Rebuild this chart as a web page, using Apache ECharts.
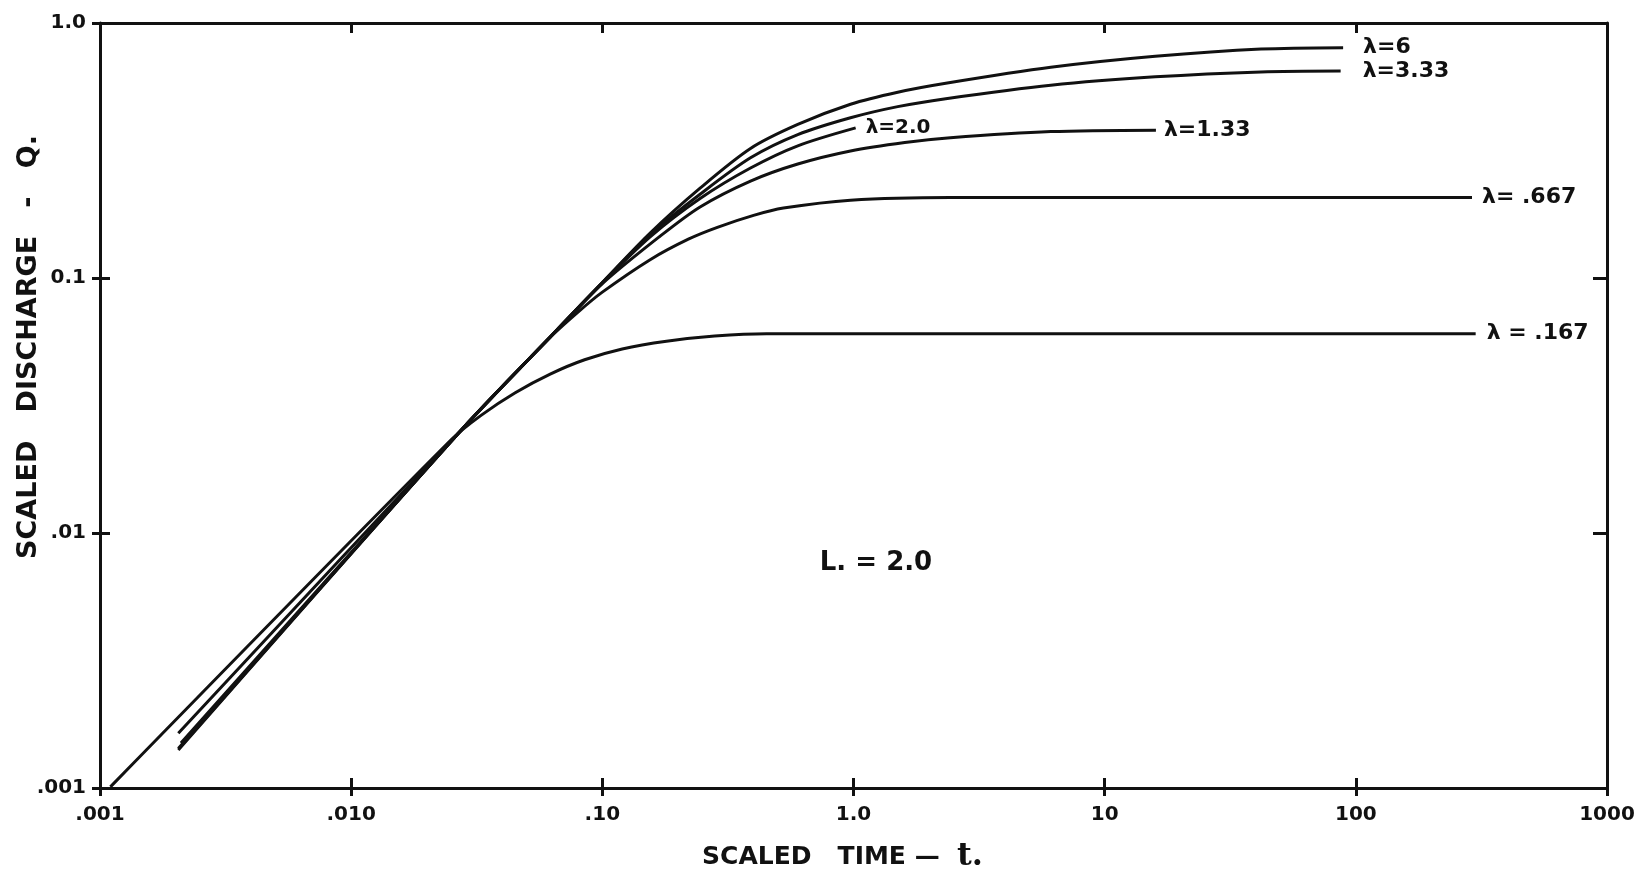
<!DOCTYPE html>
<html>
<head>
<meta charset="utf-8">
<title>Scaled discharge vs scaled time</title>
<script src="https://cdn.jsdelivr.net/npm/echarts/dist/echarts.min.js"></script>
<style>
  html, body { margin: 0; padding: 0; background: #fff; }
  #main { width: 1647px; height: 872px; }
</style>
</head>
<body>
<div id="main"></div>
<script>
// values (log-log), one pair of arrays per curve
var lambdaNames = ['λ=6', 'λ=3.33', 'λ=2.0', 'λ=1.33', 'λ= .667', 'λ = .167'];

var t_6   = [0.00205, 0.0277, 0.062, 0.1, 0.155, 0.245, 0.389, 0.6, 0.973, 1.5, 2.33, 6.1, 15.9, 41.9, 89];
var q_6   = [0.00141, 0.0256, 0.0587, 0.096, 0.150, 0.225, 0.322, 0.40, 0.48, 0.535, 0.58, 0.67, 0.74, 0.79, 0.80];

var t_333 = [0.00205, 0.0277, 0.062, 0.1, 0.155, 0.245, 0.389, 0.6, 0.973, 1.5, 2.33, 6.1, 15.9, 41.9, 87];
var q_333 = [0.00143, 0.0256, 0.0587, 0.096, 0.148, 0.213, 0.296, 0.365, 0.425, 0.47, 0.505, 0.57, 0.615, 0.643, 0.648];

var t_2   = [0.0021, 0.0277, 0.062, 0.1, 0.155, 0.245, 0.389, 0.6, 1.02];
var q_2   = [0.00146, 0.0256, 0.0587, 0.0955, 0.145, 0.205, 0.270, 0.33, 0.388];

var t_133 = [0.0021, 0.0277, 0.062, 0.1, 0.17, 0.245, 0.389, 0.6, 0.973, 1.6, 2.43, 6.1, 16];
var q_133 = [0.00150, 0.0256, 0.0587, 0.095, 0.146, 0.19, 0.240, 0.28, 0.315, 0.34, 0.355, 0.375, 0.38];

var t_667 = [0.00205, 0.0277, 0.062, 0.08, 0.1, 0.155, 0.22, 0.287, 0.4, 0.526, 0.973, 2.43, 290];
var q_667 = [0.00164, 0.0256, 0.0585, 0.0735, 0.088, 0.118, 0.142, 0.158, 0.176, 0.188, 0.202, 0.207, 0.207];

var t_167 = [0.0011, 0.025, 0.033, 0.045, 0.062, 0.085, 0.12, 0.18, 0.28, 0.45, 300];
var q_167 = [0.00101, 0.0232, 0.0290, 0.0355, 0.0420, 0.0478, 0.0527, 0.0565, 0.0592, 0.0605, 0.0605];

var xTickLabels = ['.001', '.010', '.10', '1.0', '10', '100', '1000'];
var yTickLabels = ['.001', '.01', '0.1', '1.0'];

var font = 'DejaVu Sans';
var ink = '#111';
var labelGap = [20, 22, 10, 8, 10, 11];

function pairs(t, q) {
  var out = [];
  for (var i = 0; i < t.length; i++) out.push([t[i], q[i]]);
  return out;
}

var curves = [
  [t_6, q_6], [t_333, q_333], [t_2, q_2], [t_133, q_133], [t_667, q_667], [t_167, q_167]
];

var series = [];
for (var k = 0; k < curves.length; k++) {
  series.push({
    name: lambdaNames[k],
    type: 'line',
    xAxisIndex: 0,
    yAxisIndex: 0,
    data: pairs(curves[k][0], curves[k][1]),
    showSymbol: false,
    smooth: 0.3,
    lineStyle: { color: ink, width: 3 },
    endLabel: {
      show: true,
      formatter: lambdaNames[k],
      distance: labelGap[k],
      color: ink,
      fontFamily: font,
      fontWeight: 'bold',
      fontSize: k == 2 ? 20 : 22
    },
    silent: true
  });
}

var myChart = echarts.init(document.getElementById('main'));

var frameAxis = {
  type: 'log',
  logBase: 10,
  axisLine: { lineStyle: { color: ink, width: 3 } },
  axisTick: { inside: true, length: 10, lineStyle: { color: ink, width: 3 } },
  splitLine: { show: false },
  minorTick: { show: false }
};

// left and bottom ticks cross the frame: a second, bare grid adds the outer half
var outerTicks = {
  type: 'log',
  logBase: 10,
  gridIndex: 1,
  axisLine: { show: false },
  axisTick: { inside: false, length: 8, lineStyle: { color: ink, width: 3 } },
  axisLabel: { show: false },
  splitLine: { show: false }
};

var gridBox = { left: 100, right: 40, top: 23, bottom: 84, outerBoundsMode: 'none' };

option = {
  backgroundColor: '#fff',
  animation: false,
  grid: [Object.assign({}, gridBox), Object.assign({}, gridBox)],
  series: series
};

option.xAxis = [
  Object.assign({}, frameAxis, {
    position: 'bottom',
    min: 0.001, max: 1000,
    name: 'SCALED   TIME —  {t|t.}',
    nameLocation: 'middle',
    nameGap: 53,
    nameTextStyle: {
      fontFamily: font, fontWeight: 'bold', fontSize: 25, color: ink,
      padding: [0, 22, 0, 0],
      rich: { t: { fontFamily: 'DejaVu Serif', fontWeight: 'bold', fontSize: 32, color: ink } }
    },
    axisLabel: {
      margin: 17, color: ink, fontFamily: font, fontWeight: 'bold', fontSize: 20,
      formatter: function (v) { return xTickLabels[Math.round(Math.log10(v)) + 3]; }
    }
  }),
  Object.assign({}, frameAxis, {
    position: 'top',
    min: 0.001, max: 1000,
    axisLabel: { show: false }
  }),
  Object.assign({}, outerTicks, { position: 'bottom', min: 0.001, max: 1000 })
];

option.yAxis = [
  Object.assign({}, frameAxis, {
    position: 'left',
    min: 0.001, max: 1,
    axisLabel: {
      margin: 14, color: ink, fontFamily: font, fontWeight: 'bold', fontSize: 20,
      formatter: function (v) { return yTickLabels[Math.round(Math.log10(v)) + 3]; }
    }
  }),
  Object.assign({}, frameAxis, {
    position: 'right',
    min: 0.001, max: 1,
    axisTick: { inside: true, length: 14, lineStyle: { color: ink, width: 3 } },
    axisLabel: { show: false }
  }),
  Object.assign({}, outerTicks, { position: 'left', min: 0.001, max: 1 })
];

option.graphic = [
  {
    type: 'text',
    x: 29, y: 347,
    rotation: Math.PI / 2,
    style: {
      text: 'SCALED   DISCHARGE   -   Q.',
      fill: ink, font: 'bold 27px "DejaVu Sans"',
      textAlign: 'center', textVerticalAlign: 'middle'
    }
  },
  {
    type: 'text',
    x: 876, y: 563,
    style: {
      text: 'L. = 2.0',
      fill: ink, font: 'bold 26px "DejaVu Sans"',
      textAlign: 'center', textVerticalAlign: 'middle'
    }
  }
];

myChart.setOption(option);
</script>
</body>
</html>
